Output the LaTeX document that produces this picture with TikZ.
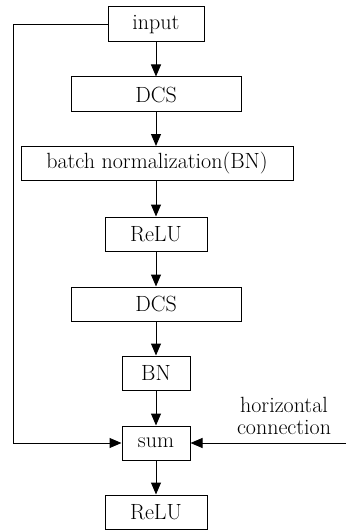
\documentclass[tikz,border=0pt]{standalone}
\usepackage{fontspec}
\usetikzlibrary{arrows.meta}
\begin{document}
\begin{tikzpicture}[x=1pt,y=-1pt,
  blk/.style={draw,line width=1pt,inner sep=0pt,font=\fontsize{22}{24}\selectfont},
  flow/.style={line width=1pt,-{Triangle[length=12pt,width=10pt]}}]
  \useasboundingbox (0,0) rectangle (346,532);
  % processing chain, boxes given by their corners
  \node[blk,minimum width=96pt,minimum height=35pt] (in) at (156,24.5) {input};
  \node[blk,minimum width=170pt,minimum height=35pt] (dcsa) at (156,94.5) {DCS};
  \node[blk,minimum width=272pt,minimum height=34pt] (bna) at (157,163.5) {batch normalization(BN)};
  \node[blk,minimum width=102pt,minimum height=34pt] (relua) at (156,234) {ReLU};
  \node[blk,minimum width=170pt,minimum height=34pt] (dcsb) at (156,304) {DCS};
  \node[blk,minimum width=68pt,minimum height=34pt] (bnb) at (156,373) {BN};
  \node[blk,minimum width=68pt,minimum height=34pt] (sum) at (156,443) {sum};
  \node[blk,minimum width=102pt,minimum height=34pt] (relub) at (156,512) {ReLU};
  % side inputs of the sum
  \coordinate (right) at (346,443);
  \node[font=\fontsize{22}{22}\selectfont,align=center,inner sep=0pt] (hc) at (284,416) {horizontal\\connection};
  \draw[flow] (in) -- (dcsa);
  \draw[flow] (dcsa) -- (bna.north -| dcsa);
  \draw[flow] (bna.south -| dcsa) -- (relua);
  \draw[flow] (relua) -- (dcsb);
  \draw[flow] (dcsb) -- (bnb);
  \draw[flow] (bnb) -- (sum);
  \draw[flow] (sum) -- (relub);
  \draw[flow] (in.west) -- (13,24.5) |- (sum.west);
  \draw[flow] (right) -- (sum.east);
\end{tikzpicture}
\end{document}
